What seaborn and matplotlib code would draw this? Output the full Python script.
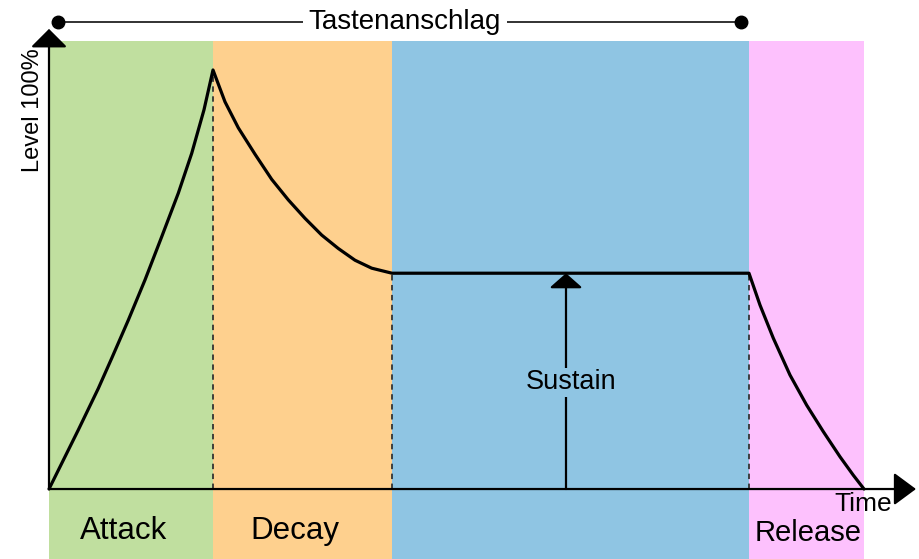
import numpy as np
import pandas as pd
import matplotlib
matplotlib.use("Agg")
import matplotlib.pyplot as plt
import seaborn as sns

# phases of the envelope (time units, level 0..1)
phase_names = ["Attack", "Decay", "Sustain", "Release"]
phase_edges = [0.0, 1.64, 3.43, 7.00, 8.15]
phase_colors = ["#c0df9f", "#fed08e", "#8fc5e3", "#fdc1fd"]

# envelope curve
attack_t = [0.0, 0.293, 0.493, 0.627, 0.793, 0.96, 1.127, 1.293, 1.427, 1.55, 1.64]
attack_lv = [0.0, 0.141, 0.240, 0.312, 0.403, 0.499, 0.602, 0.706, 0.801, 0.905, 1.0]
decay_t = [1.76, 1.893, 2.06, 2.227, 2.393, 2.56, 2.727, 2.893, 3.06, 3.227, 3.43]
decay_lv = [0.924, 0.862, 0.799, 0.739, 0.690, 0.646, 0.606, 0.574, 0.546, 0.527, 0.515]
release_t = [7.00, 7.11, 7.243, 7.41, 7.577, 7.743, 7.91, 8.043, 8.15]
release_lv = [0.515, 0.439, 0.360, 0.272, 0.200, 0.137, 0.077, 0.033, 0.0]
sustain_level = 0.515
sustain_arrow_t = 5.17
key_start, key_end = 0.09, 6.92

df = pd.DataFrame({"t": attack_t + decay_t + release_t,
                   "level": attack_lv + decay_lv + release_lv})

sns.set_theme(style="white")
plt.rcParams["font.family"] = ["Liberation Sans", "DejaVu Sans"]
plt.rcParams["text.color"] = "black"

fig = plt.figure(figsize=(9.19, 5.59), dpi=100)
ax = fig.add_axes([0, 0, 1, 1])
ax.set_xlim(-0.49, 8.70)
ax.set_ylim(-0.167, 1.167)
ax.axis("off")

band_top = 1.069
for i, c in enumerate(phase_colors):
    ax.fill_between([phase_edges[i], phase_edges[i + 1]], -0.2, band_top,
                    color=c, lw=0, zorder=0)

# dashed phase boundaries
for e, top in zip(phase_edges[1:4], [1.0, sustain_level, sustain_level]):
    ax.plot([e, e], [0, top], color="#333333", lw=1.3,
            ls=(0, (3, 2.5)), zorder=2)

# axes with arrow heads
ax.annotate("", xy=(0, 1.098), xytext=(0, 0),
            arrowprops=dict(arrowstyle="-|>,head_length=0.95,head_width=0.95",
                            color="black", lw=1.6, shrinkA=0, shrinkB=0), zorder=3)
ax.annotate("", xy=(8.67, 0), xytext=(0, 0),
            arrowprops=dict(arrowstyle="-|>,head_length=1.15,head_width=0.85",
                            color="black", lw=1.6, shrinkA=0, shrinkB=0), zorder=3)

sns.lineplot(data=df, x="t", y="level", color="black", lw=2.3, ax=ax,
             estimator=None, zorder=4)

# sustain arrow
ax.annotate("", xy=(sustain_arrow_t, sustain_level), xytext=(sustain_arrow_t, 0),
            arrowprops=dict(arrowstyle="-|>,head_length=0.75,head_width=0.85",
                            color="black", lw=1.6, shrinkA=0, shrinkB=0), zorder=3)
ax.text(5.22, 0.255, "Sustain", ha="center", va="center", fontsize=19.5,
        zorder=5, bbox=dict(facecolor=phase_colors[2], edgecolor="none", pad=1))

# key press bar
ax.plot([key_start, key_end], [1.115, 1.115], color="#222222", lw=1.3, zorder=3)
ax.plot([key_start, key_end], [1.115, 1.115], "o", color="black", ms=9, zorder=4)
ax.text(3.56, 1.115, "Tastenanschlag", ha="center",
        va="center", fontsize=20, zorder=5,
        bbox=dict(facecolor="white", edgecolor="none", pad=4))

# phase labels
ax.text(0.75, -0.100, "Attack", ha="center", va="center", fontsize=22.5)
ax.text(2.46, -0.100, "Decay", ha="center", va="center", fontsize=22.5)
ax.text(7.59, -0.105, "Release", ha="center", va="center", fontsize=21)
ax.text(8.14, -0.036, "Time", ha="center", va="center", fontsize=19)
ax.text(-0.16, 0.905, "Level 100%", ha="center", va="center", fontsize=17,
        rotation=90)

fig.savefig("out.png", dpi=100)
